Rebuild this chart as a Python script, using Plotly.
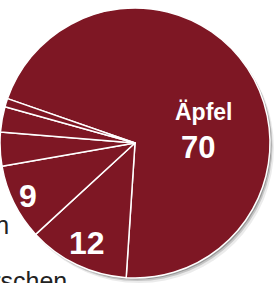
import math
import plotly.graph_objects as go

# ---- data ----
labels = ["Äpfel", "Kirschen", "Birnen", "Pflaumen", "Trauben", "Kiwis"]
values = [70, 12, 9, 4, 3, 1]
inside_labels = ["Äpfel<br>70", "12", "9", "", "", ""]
outside_names = ["", "Kirschen", "Birnen", "", "", ""]

# ---- geometry (pixels) ----
W, H = 275, 283
ROT = 289.2
BOX = (0, 8, 270, 278)          # main pie box x0, y0, x1, y1 (pixels, top-down)
CX = (BOX[0] + BOX[2]) / 2
CY = (BOX[1] + BOX[3]) / 2
R = min(BOX[2] - BOX[0], BOX[3] - BOX[1]) / 2
RED = "#7e1724"


def dom(x0, y0, x1, y1):
    return dict(x=[max(0, x0 / W), min(1, x1 / W)], y=[max(0, 1 - y1 / H), min(1, 1 - y0 / H)])


def paper(px, py):
    return px / W, 1 - py / H


fig = go.Figure()

# soft shadow
for dx, dy, a in [(4, 5, 0.08), (2.5, 3, 0.16), (1.5, 1.5, 0.22)]:
    fig.add_trace(go.Pie(
        values=[1], labels=["s"], sort=False, textinfo="none", hoverinfo="skip",
        showlegend=False, marker=dict(colors=[f"rgba(0,0,0,{a})"], line=dict(width=0)),
        domain=dom(BOX[0] + dx, BOX[1] + dy, BOX[2] + dx, BOX[3] + dy),
    ))

fig.add_trace(go.Pie(
    labels=labels, values=values, sort=False, direction="clockwise", rotation=ROT,
    textinfo="none", showlegend=False,
    marker=dict(colors=[RED] * len(values), line=dict(color="white", width=1.5)),
    domain=dom(*BOX),
))

# label positions derived from the data
total = sum(values)
cum = 0
annotations = []
rfrac = {1: 0.82, 2: 0.88}
for i, v in enumerate(values):
    mid = ROT + (cum + v / 2) / total * 360
    cum += v
    if i in rfrac:
        a = math.radians(mid)
        px = CX + rfrac[i] * R * math.sin(a)
        py = CY - rfrac[i] * R * math.cos(a)
        x, y = paper(px, py)
        annotations.append(dict(x=x, y=y, xref="paper", yref="paper", text=inside_labels[i],
                                showarrow=False, xanchor="center", yanchor="middle",
                                font=dict(family="Liberation Sans", size=32, color="white",
                                          weight="bold")))

# Äpfel label
x, y = paper(204, 112)
annotations.append(dict(x=x, y=y, xref="paper", yref="paper", text="Äpfel", showarrow=False,
                        xanchor="center", yanchor="middle",
                        font=dict(family="Liberation Sans", size=23, color="white", weight="bold")))
x, y = paper(198, 147)
annotations.append(dict(x=x, y=y, xref="paper", yref="paper", text="70", showarrow=False,
                        xanchor="center", yanchor="middle",
                        font=dict(family="Liberation Sans", size=31, color="white", weight="bold")))

# outside names (cut off by the frame)
for i, (px, py) in {2: (11, 225), 1: (69, 281)}.items():
    x, y = paper(px, py)
    annotations.append(dict(x=x, y=y, xref="paper", yref="paper", text=outside_names[i],
                            showarrow=False, xanchor="right", yanchor="middle",
                            font=dict(family="Liberation Sans", size=25, color="#222222")))

fig.update_layout(
    width=W, height=H, margin=dict(l=0, r=0, t=0, b=0),
    paper_bgcolor="white", plot_bgcolor="white",
    annotations=annotations,
)

fig.write_html("out.html", config={"displayModeBar": False},
               post_script="document.body.style.margin='0';")
